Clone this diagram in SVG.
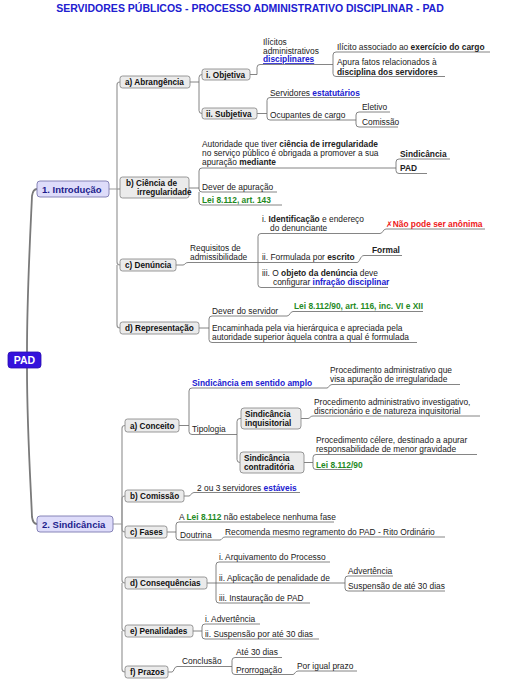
<svg xmlns="http://www.w3.org/2000/svg" width="505" height="689" viewBox="0 0 505 689">
<style>
text{font-family:"Liberation Sans",Arial,sans-serif;font-size:8.4px;fill:#222}
.t{font-size:10.5px;font-weight:bold;fill:#2020d0}
.n{fill:#ebebeb;stroke:#808080;stroke-width:0.8}
.nl{font-size:8.2px;font-weight:bold;fill:#111}
.m{fill:#dedcfa;stroke:#7a78b0;stroke-width:0.9}
.ml{font-size:9.5px;font-weight:bold;fill:#1c1c8c}
.b{font-weight:bold}
.bl{font-weight:bold;fill:#2020d0}
.g{font-weight:bold;fill:#1f8a1f}
.r{font-weight:bold;fill:#ee2020}
.trunk{fill:none;stroke:#7a7a7a;stroke-width:1.8}
.l1{fill:none;stroke:#999;stroke-width:1.2}
.c{fill:none;stroke:#666;stroke-width:0.8}
</style>
<text class="t" x="250" y="12" text-anchor="middle">SERVIDORES PÚBLICOS - PROCESSO ADMINISTRATIVO DISCIPLINAR - PAD</text>
<g id="connectors">
<path class="trunk" d="M27,352 C27,290 31,220 32,196 Q33,189 37,189"/>
<path class="trunk" d="M27,368 C27,430 31,490 32,517 Q33,524 37,524"/>
<path class="l1" d="M109,189 H117 V85 Q117,82 120,82"/>
<path class="l1" d="M117,189 H120"/>
<path class="l1" d="M117,189 V262 Q117,265 120,265"/>
<path class="l1" d="M117,265 V325 Q117,328 120,328"/>
<path class="l1" d="M113,524 H122 V428.5 Q122,425.5 125,425.5"/>
<path class="l1" d="M122,524 V499 Q122,496 125,496"/>
<path class="l1" d="M122,524 V529 Q122,532 125,532"/>
<path class="l1" d="M122,524 V580 Q122,583 125,583"/>
<path class="l1" d="M122,583 V628 Q122,631 125,631"/>
<path class="l1" d="M122,631 V669 Q122,672 125,672"/>
<path class="c" d="M190,82 H199 V77.5 Q199,74.5 202,74.5"/>
<path class="c" d="M199,82 V110.5 Q199,113.5 202,113.5"/>
<path class="c" d="M250,74.5 H257 V67.5 Q257,64.5 260,64.5 H325"/>
<path class="c" d="M325,64.5 H333 V55 Q333,52 336,52 H490"/>
<path class="c" d="M333,64.5 V73.5 Q333,76.5 336,76.5 H445"/>
<path class="c" d="M257,113.5 H267 V100.5 Q267,97.5 270,97.5 H360"/>
<path class="c" d="M267,113.5 V117 Q267,120 270,120 H347"/>
<path class="c" d="M347,120 H356 V115 Q356,112 359,112 H390"/>
<path class="c" d="M356,120 V124 Q356,127 359,127 H398"/>
<path class="c" d="M189,188 H199 V171 Q199,168 202,168 H396"/>
<path class="c" d="M199,188 V189 Q199,192 202,192 H277"/>
<path class="c" d="M199,192 V202 Q199,205 202,205 H282"/>
<path class="c" d="M396,168 V162 Q396,159 399,159 H450"/>
<path class="c" d="M396,168 V170.5 Q396,173.5 399,173.5 H427"/>
<path class="c" d="M176,265 H183 C185,265 185,262.5 188,262.5 H357"/>
<path class="c" d="M258,262.5 V236.5 Q258,233.5 261,233.5 H380"/>
<path class="c" d="M258,262.5 V284.5 Q258,287.5 261,287.5 H388"/>
<path class="c" d="M380,233.5 C383,233.5 383,229 386,229 H485"/>
<path class="c" d="M357,262.5 C360,262.5 360,255.5 364,255.5 H402"/>
<path class="c" d="M199,328 H209 V319 Q209,316 212,316 H287"/>
<path class="c" d="M209,328 V339.5 Q209,342.5 212,342.5 H417"/>
<path class="c" d="M287,316 C290,316 290,311.5 293,311.5 H423"/>
<path class="c" d="M179,425.5 H189 V391 Q189,388 192,388 H327"/>
<path class="c" d="M189,425.5 V431.5 Q189,434.5 192,434.5 H237"/>
<path class="c" d="M327,388 C329,388 329,384.5 332,384.5 H460"/>
<path class="c" d="M237,434.5 V421.5 Q237,418.5 240,418.5 H241"/>
<path class="c" d="M237,434.5 V459.5 Q237,462.5 240,462.5 H240"/>
<path class="c" d="M301,418.5 H308 C310,418.5 310,416 313,416 H480"/>
<path class="c" d="M304,462.5 H313 V457.5 Q313,454.5 316,454.5 H477"/>
<path class="c" d="M313,462.5 V466.5 Q313,469.5 316,469.5 H352"/>
<path class="c" d="M184,496 H189 C191,496 191,492.5 194,492.5 H300"/>
<path class="c" d="M167,532 H176 V525 Q176,522 179,522 H334"/>
<path class="c" d="M176,532 V537 Q176,540 179,540 H220"/>
<path class="c" d="M220,540 C222,540 222,537 225,537 H445"/>
<path class="c" d="M207,583 H216 V565 Q216,562 219,562 H330"/>
<path class="c" d="M216,583 H345"/>
<path class="c" d="M216,583 V600 Q216,603 219,603 H310"/>
<path class="c" d="M345,583 V579 Q345,576 348,576 H393"/>
<path class="c" d="M345,583 V588 Q345,591 348,591 H445"/>
<path class="c" d="M193,631 H202 V627 Q202,624 205,624 H260"/>
<path class="c" d="M202,631 V636 Q202,639 205,639 H319"/>
<path class="c" d="M168,672 H172 C174,672 174,666.5 177,666.5 H232"/>
<path class="c" d="M232,666.5 V660.5 Q232,657.5 235,657.5 H282"/>
<path class="c" d="M232,666.5 V671.5 Q232,674.5 235,674.5 H293"/>
<path class="c" d="M293,674.5 C295,674.5 295,671 298,671 H357"/>
</g>
<g id="pad"><rect x="8" y="352" width="33" height="16" rx="3" fill="#3412dc" stroke="#2a0eb0" stroke-width="0.8"/><text x="24.5" y="364" text-anchor="middle" style="font-size:10.5px;font-weight:bold;fill:#fff">PAD</text></g>
<g id="introducao"><rect class="m" x="37" y="181" width="72" height="16" rx="3"/><text class="ml" x="42" y="192.5">1. Introdução</text></g>
<g id="sindicancia"><rect class="m" x="37" y="516" width="76" height="16" rx="3"/><text class="ml" x="42" y="527.5">2. Sindicância</text></g>
<g id="abrangencia"><rect class="n" x="120" y="76" width="70" height="12" rx="2.5"/><text class="nl" x="125" y="85">a) Abrangência</text></g>
<g id="objetiva"><rect class="n" x="202" y="69" width="48" height="11" rx="2.5"/><text class="nl" x="206" y="77.5">i. Objetiva</text></g>
<g id="subjetiva"><rect class="n" x="202" y="108" width="55" height="11" rx="2.5"/><text class="nl" x="206" y="116.5">ii. Subjetiva</text></g>
<g id="ilicitos"><text x="263" y="45">Ilícitos</text><text x="263" y="53.5">administrativos</text><text class="bl" x="263" y="62" text-decoration="underline">disciplinares</text></g>
<g id="ilicito-exercicio"><text x="337" y="50">Ilícito associado ao <tspan class="b">exercício do cargo</tspan></text></g>
<g id="apura-fatos"><text x="337" y="65">Apura fatos relacionados à</text><text class="b" x="337" y="74.5">disciplina dos servidores</text></g>
<g id="estatutarios"><text x="270" y="95.5">Servidores <tspan class="bl">estatutários</tspan></text></g>
<g id="ocupantes"><text x="270" y="117.5">Ocupantes de cargo</text></g>
<g id="eletivo"><text x="362" y="110">Eletivo</text></g>
<g id="comissao-cargo"><text x="362" y="125">Comissão</text></g>
<g id="ciencia"><rect class="n" x="120" y="177" width="69" height="21" rx="2.5"/><text class="nl" x="126" y="185.5">b) Ciência de</text><text class="nl" x="137" y="194.5">irregularidade</text></g>
<g id="autoridade"><text x="202" y="146.5">Autoridade que tiver <tspan class="b">ciência de irregularidade</tspan></text><text x="202" y="155.5">no serviço público é obrigada a promover a sua</text><text x="202" y="164.5">apuração <tspan class="b">mediante</tspan></text></g>
<g id="sind-mediante"><text class="b" x="400" y="156.5">Sindicância</text></g>
<g id="pad-mediante"><text class="b" x="400" y="171">PAD</text></g>
<g id="dever-apuracao"><text x="202" y="189.5">Dever de apuração</text></g>
<g id="lei-143"><text class="g" x="202" y="203">Lei 8.112, art. 143</text></g>
<g id="denuncia"><rect class="n" x="120" y="259" width="56" height="12" rx="2.5"/><text class="nl" x="125" y="268">c) Denúncia</text></g>
<g id="requisitos"><text x="190" y="250.5">Requisitos de</text><text x="190" y="259.5">admissibilidade</text></g>
<g id="identificacao"><text x="262" y="222"><tspan>i. </tspan><tspan class="b">Identificação</tspan> e endereço</text><text x="270" y="231">do denunciante</text></g>
<g id="nao-anonima"><text class="r" x="386" y="227"><tspan style="font-family:'DejaVu Sans',sans-serif;font-size:8px">✗</tspan>Não pode ser anônima</text></g>
<g id="escrito"><text x="262" y="260">ii. Formulada por <tspan class="b">escrito</tspan></text></g>
<g id="formal"><text class="b" x="372" y="253">Formal</text></g>
<g id="objeto"><text x="262" y="276">iii. O <tspan class="b">objeto da denúncia</tspan> deve</text><text x="273" y="285">configurar <tspan class="bl">infração disciplinar</tspan></text></g>
<g id="representacao"><rect class="n" x="120" y="322" width="79" height="12" rx="2.5"/><text class="nl" x="125" y="331">d) Representação</text></g>
<g id="dever-servidor"><text x="212" y="313.5">Dever do servidor</text></g>
<g id="lei-116"><text class="g" x="294" y="309">Lei 8.112/90, art. 116, inc. VI e XII</text></g>
<g id="encaminhada"><text x="212" y="331">Encaminhada pela via hierárquica e apreciada pela</text><text x="212" y="340">autoridade superior àquela contra a qual é formulada</text></g>
<g id="conceito"><rect class="n" x="125" y="419" width="54" height="13" rx="2.5"/><text class="nl" x="130" y="428.5">a) Conceito</text></g>
<g id="sentido-amplo"><text class="bl" x="192" y="385.5">Sindicância em sentido amplo</text></g>
<g id="proc-amplo"><text x="330" y="373">Procedimento administrativo que</text><text x="330" y="382">visa apuração de irregularidade</text></g>
<g id="tipologia"><text x="192" y="432">Tipologia</text></g>
<g id="inquisitorial"><rect class="n" x="241" y="408" width="60" height="21" rx="3"/><text class="nl" x="245" y="416.5">Sindicância</text><text class="nl" x="245" y="425.5">inquisitorial</text></g>
<g id="proc-inquisitorial"><text x="314" y="404.5">Procedimento administrativo investigativo,</text><text x="314" y="413.5">discricionário e de natureza inquisitorial</text></g>
<g id="contraditoria"><rect class="n" x="240" y="452" width="64" height="21" rx="3"/><text class="nl" x="244" y="460.5">Sindicância</text><text class="nl" x="244" y="469.5">contraditória</text></g>
<g id="proc-celere"><text x="316" y="443">Procedimento célere, destinado a apurar</text><text x="316" y="452">responsabilidade de menor gravidade</text></g>
<g id="lei-8112-90"><text class="g" x="316" y="467.5">Lei 8.112/90</text></g>
<g id="comissao"><rect class="n" x="125" y="490" width="59" height="12" rx="2.5"/><text class="nl" x="130" y="499">b) Comissão</text></g>
<g id="servidores-estaveis"><text x="197" y="490.5">2 ou 3 servidores <tspan class="bl">estáveis</tspan></text></g>
<g id="fases"><rect class="n" x="125" y="526" width="42" height="12" rx="2.5"/><text class="nl" x="130" y="535">c) Fases</text></g>
<g id="lei-fases"><text x="179" y="519.5">A <tspan class="g">Lei 8.112</tspan> não estabelece nenhuma fase</text></g>
<g id="doutrina"><text x="180" y="538">Doutrina</text></g>
<g id="recomenda"><text x="225" y="534.5">Recomenda mesmo regramento do PAD - Rito Ordinário</text></g>
<g id="consequencias"><rect class="n" x="125" y="577" width="82" height="12" rx="2.5"/><text class="nl" x="130" y="586">d) Consequências</text></g>
<g id="arquivamento"><text x="219" y="559.5">i. Arquivamento do Processo</text></g>
<g id="aplicacao"><text x="219" y="580.5">ii. Aplicação de penalidade de</text></g>
<g id="advertencia-1"><text x="348" y="573.5">Advertência</text></g>
<g id="suspensao-1"><text x="348" y="588.5">Suspensão de até 30 dias</text></g>
<g id="instauracao"><text x="219" y="600.5">iii. Instauração de PAD</text></g>
<g id="penalidades"><rect class="n" x="125" y="625" width="68" height="12" rx="2.5"/><text class="nl" x="130" y="634">e) Penalidades</text></g>
<g id="advertencia-2"><text x="205" y="621.5">i. Advertência</text></g>
<g id="suspensao-2"><text x="205" y="636.5">ii. Suspensão por até 30 dias</text></g>
<g id="prazos"><rect class="n" x="125" y="666" width="43" height="12" rx="2.5"/><text class="nl" x="130" y="675">f) Prazos</text></g>
<g id="conclusao"><text x="182" y="664">Conclusão</text></g>
<g id="ate-30"><text x="236" y="655">Até 30 dias</text></g>
<g id="prorrogacao"><text x="236" y="672.5">Prorrogação</text></g>
<g id="igual-prazo"><text x="297" y="668.5">Por igual prazo</text></g>
</svg>
